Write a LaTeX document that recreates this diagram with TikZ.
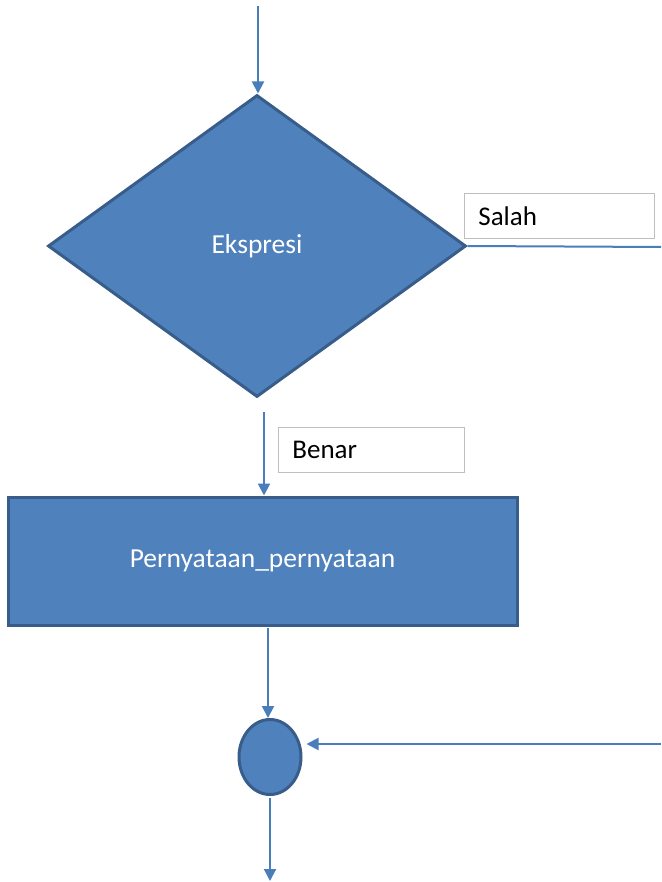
\documentclass[tikz,border=0pt]{standalone}
\usepackage{fontspec}
\setmainfont{Carlito}
\usepackage{tikz}
\usetikzlibrary{shapes.geometric,arrows.meta}
\definecolor{isi}{HTML}{4F81BD}
\definecolor{tepi}{HTML}{385D8A}
\definecolor{panah}{HTML}{4A7EBB}
\tikzset{>={Triangle[width=12pt,length=12pt]},
  bentuk/.style={fill=isi,draw=tepi,line width=3pt,text=white,
    font=\fontsize{27.5}{33}\selectfont,inner sep=0pt},
  label/.style={draw=black!25,line width=0.8pt,fill=white,anchor=north west,
    font=\fontsize{27}{32}\selectfont,align=left,inner xsep=14pt,inner ysep=0pt,
    minimum height=45pt},
  alir/.style={draw=panah,line width=2pt,->}}

\begin{document}
\begin{tikzpicture}[x=1pt,y=-1pt]
    \useasboundingbox (0,0) rectangle (661,882);

    \node[bentuk,diamond,minimum width=418pt,minimum height=302pt] (ekspr) at (257,246) {Ekspresi};
    \node[bentuk,rectangle,minimum width=509pt,minimum height=128pt] (blok) at (262.5,561) {Pernyataan\_pernyataan};
    \node[bentuk,ellipse,minimum width=62pt,minimum height=75pt] (bulat) at (270,757) {};

    \node[label,text width=162pt] (salah) at (464,193) {Salah};
    \node[label,text width=158pt] (benar) at (278,427) {Benar};

    \coordinate (atas) at (258,6);
    \coordinate (bnr) at (264,412);
    \coordinate (c1) at (268,628);
    \coordinate (kanan) at (661,744);
    \coordinate (kanan2) at (661,247);
    \coordinate (bawah) at (270,881);

    \draw[alir] (atas) -- (atas |- ekspr.north);
    \draw[draw=panah,line width=2pt] (ekspr.east) -- (kanan2);
    \draw[alir] (bnr) -- (bnr |- blok.north);
    \draw[alir] (c1) -- (c1 |- bulat.north);
    \draw[alir,shorten >=4pt] (kanan) -- (bulat.east |- kanan);
    \draw[alir,shorten <=2pt] (bulat.south) -- (bawah);
\end{tikzpicture}
\end{document}
